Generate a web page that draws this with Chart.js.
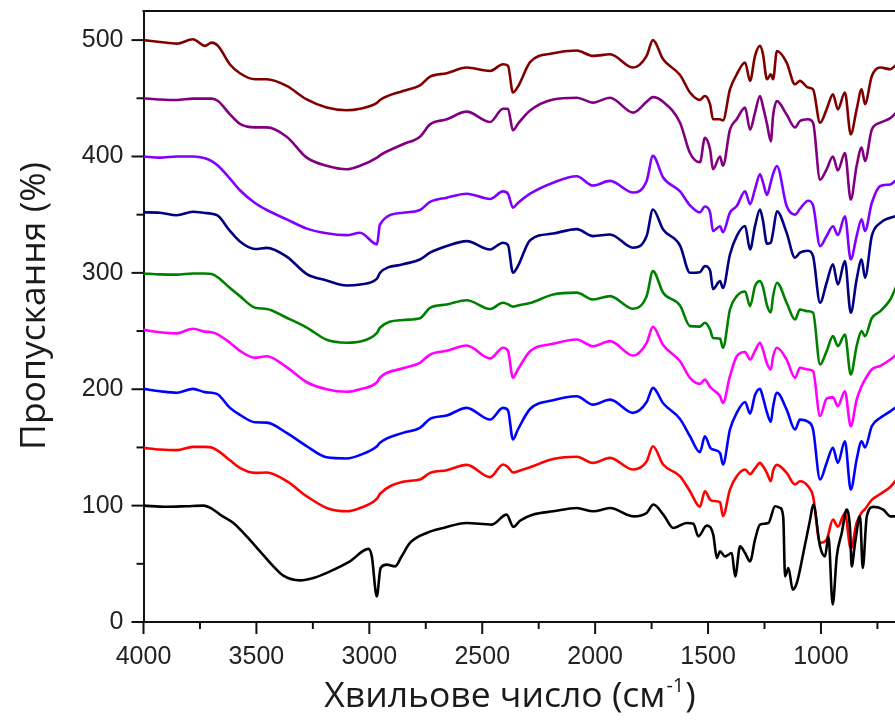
<!DOCTYPE html>
<html><head><meta charset="utf-8">
<script src="https://cdn.jsdelivr.net/npm/chart.js@4.4.1/dist/chart.umd.min.js"></script>
<style>
html,body{margin:0;padding:0;overflow:hidden;background:#fff;width:895px;height:722px}
#wrap{position:relative;width:920px;height:722px}
</style></head>
<body><div id="wrap"><canvas id="c" width="920" height="722"></canvas></div>
<script>
// ---- data (wavenumber in cm-1, transmittance in %, offset spectra) ----
const wavenumbers = [4000,3927,3853,3781,3728,3698,3670,3617,3573,3506,3454,3366,3277,3189,3100,3041,2966,2953,2851,2776,2731,2657,2569,2465,2408,2386,2364,2342,2288,2186,2082,2009,1934,1832,1772,1744,1699,1624,1580,1536,1514,1491,1478,1447,1434,1403,1373,1336,1314,1292,1270,1257,1239,1222,1212,1195,1152,1115,1093,1057,1035,1004,975,947,925,894,868,842,820,805,775,737,693,665];

const seriesDarkRed = [500,498.4,497,500.7,495,497.8,495,479,471.5,466.3,466.3,460.6,449,442,439.7,441,446,448.5,456.3,461,468.6,471.5,476.4,473.5,479.2,478,455,460,481,488.7,491,486.4,487.8,476.4,486.4,500,483.5,470,455,448.6,452,444.8,432,432,431,457.7,470.6,480.7,465,486.4,495,488,466.3,470.6,466.3,490.6,480.7,462,465,459.2,457.7,429,440.5,453.4,440.5,455,419,440.5,457.7,445,469,476.4,475,479];
const seriesPurple = [450,449,448.5,449.7,449.7,449.7,447.7,436.2,428,425,425,417,399,392,389,392,399,401,410.5,417,427.6,431.9,438.5,429.6,441,441,422.5,428,439.5,449,450.5,446.3,450.5,437.7,447,451,447,429,403,395,416,406,389,400,392,423,432,442,423,437.7,452,443,428,413,435,447.6,436,425,430.5,432,429,380,389,400,388,403,363,392,407.6,396,423,429,433,438];
const seriesViolet = [400,399,400,400,398.5,396,392,381,371,360,354,346,338,334,332.4,334.5,324.5,341.6,351.7,354,361,364.6,368,363.5,370,368,356,360,368,377.5,383,375,379,369,379,400.5,382,370,358,352,357,352,336,340,335,351.7,357.4,370,359,372,384.6,378,367,378,385,391.8,357.4,350,355,362,358,323,331.6,340,332.5,348.7,311.5,331.6,346,336,360,374.6,376,380];
const seriesNavy = [352,351.7,349.5,352.5,351.5,350.8,349,336,327,320.5,321.5,314,299,293.5,289.2,290,295,300,307.3,311.5,317.3,323,327.3,320.1,325.9,324,300.1,305.8,328,333.8,337.6,331.6,333,321.6,331.6,354.5,337.3,323.5,300.1,300.6,305.8,302,286,292.9,287,315.8,331.6,340.2,320.1,340.2,354.5,345,325,326,335,353,334.5,313,317.3,319,314.4,274.3,291.5,307.3,290,310.1,265.7,294.4,311.5,295.8,331.6,343,347.4,349];
const seriesGreen = [299.5,298.7,298.5,299.5,299.5,299,296,287,280,270,269,261.4,253,242.5,240,241,248.5,252.8,259.5,261,270,272.8,276.5,269,274.3,273,271,272,274,281.4,283,277.1,280,269.1,280,301.5,283,272,254.2,253.8,257.1,251.3,244,243.5,235.6,268.5,280,284,271.4,288.6,292.9,288,272,266,280,291.5,274.3,259.9,268.5,267,265.7,221.2,232.7,245.6,237,247,212.6,237,249.9,245.6,261,267.1,277.1,289];
const seriesMagenta = [251,249,248,252,249.5,249,247,240,233,227,228.4,219,206,200,197.8,200,206,210,218,222.7,229.8,233,237.6,226.5,235.6,233,210,217,232.7,239,242.7,237,241.3,229,239.9,253.6,238,224,209.8,204.6,208.3,202,199.7,194,188.3,211.2,228.4,232,225.5,233,239.9,234,222,217,228,235.6,225.5,209.8,218.4,217,215.5,177,192,193,185.4,198.3,168.2,191.1,202.6,208.3,217,220,225.5,230];
const seriesBlue = [200.3,198.3,197,200.3,197.5,197,195.5,184,178,171.6,171.3,162.5,151,141.5,140.5,143.5,151,154,162.5,166.8,174.5,177.4,184,174,184,182,156.8,165.4,183,190.5,194,186.8,191.1,179.7,189,201.2,188,174.5,159.6,146,159.6,150,148.2,145.3,135.3,165.4,179.7,189,179,195,200.3,193,180,172,185,197,182.5,165.4,173.9,172,165.4,122.4,136.7,149.6,136.7,155.3,113.8,139.6,155.3,150,168.2,175.4,181,185];
const seriesRed = [149.6,148.2,147.7,150.5,150.5,150,147,139,132.4,128.1,128.5,121,108,98,95.1,98,106,110,120.5,122.4,128.1,130.4,135,124.5,135.3,133,128.5,129.5,133,140,142,136.7,141,131,138,151,135.3,125.2,112.3,99,112.3,105.2,104,103,91,113.8,125.2,131,127,132,136.7,134,128,121,130,135,128.1,118.1,120.9,116.6,108,68,70.8,88,82,93.7,63,85.1,94,97,105,110,116,122.4];

const blackWavenumbers = [4000,3897,3809,3735,3698,3661,3602,3543,3484,3425,3381,3307,3248,3174,3086,3004,2989,2967,2950,2923,2886,2857,2820,2746,2672,2569,2458,2392,2362,2333,2274,2185,2082,2008,1934,1831,1772,1742,1698,1654,1594,1565,1543,1506,1477,1461,1447,1425,1395,1380,1358,1336,1314,1292,1270,1233,1203,1181,1167,1159,1144,1125,1107,1078,1048,1034,1004,982,967,948,930,908,886,871,864,849,827,815,797,768,724,693,665];
const seriesBlack = [100,99,99.5,100,97.5,92.3,85.1,73.6,60.7,47.8,39.8,35.8,37.8,43.5,52.1,62.8,56.4,22,46.4,49.3,47.8,56.4,67.9,76.5,80.8,85.1,83.7,92.3,81.7,87,92.3,95.1,98,95.1,98,90.8,93.7,100.9,92.3,80.8,85.1,84.5,73.6,82.8,75.1,55,60.7,56.4,59.3,39.2,65,59.3,52.1,70.8,83.7,85,99.4,98,90,39.2,46.4,27.8,33.5,59.3,88,100.9,65,56.4,73.6,15,56.4,76.5,96.6,79.4,47.8,67.9,90.8,46.4,90.8,98.9,96.6,90.8,90.8];

const xTickValues = [750,1000,1250,1500,1750,2000,2250,2500,2750,3000,3250,3500,3750,4000];
const yTickValues = [0,50,100,150,200,250,300,350,400,450,500];
const xTitle = ['Хвильове число (см', '-1', ')'];
const yTitle = 'Пропускання (%)';

// ---- build datasets ----
function pts(xs, ys){ return xs.map((x,i)=>({x:x, y:ys[i]})); }
const seriesDefs = [
  [blackWavenumbers, seriesBlack, '#000000'],
  [wavenumbers, seriesRed, '#ff0000'],
  [wavenumbers, seriesBlue, '#0000ff'],
  [wavenumbers, seriesMagenta, '#ff00ff'],
  [wavenumbers, seriesGreen, '#008000'],
  [wavenumbers, seriesNavy, '#000080'],
  [wavenumbers, seriesViolet, '#8000ff'],
  [wavenumbers, seriesPurple, '#800080'],
  [wavenumbers, seriesDarkRed, '#800000']
];
const datasets = seriesDefs.map(([xs, ys, col]) => ({
  data: pts(xs, ys), borderColor: col, borderWidth: 2.6, pointRadius: 0,
  cubicInterpolationMode: 'monotone', fill: false,
  borderJoinStyle: 'round', borderCapStyle: 'round'
}));

function zeroPad(s){ s.paddingLeft = 0; s.paddingRight = 0; s.paddingTop = 0; s.paddingBottom = 0; }

const framePlugin = {
  id: 'frame',
  afterDraw(chart){
    const ctx = chart.ctx, a = chart.chartArea;
    const xs = chart.scales.x, ys = chart.scales.y;
    ctx.save();
    ctx.strokeStyle = '#111';
    ctx.lineWidth = 2;
    ctx.beginPath(); ctx.moveTo(a.left - 1, a.top); ctx.lineTo(a.right + 30, a.top); ctx.stroke();
    yTickValues.forEach(v => {
      const p = ys.getPixelForValue(v);
      const len = (v % 100 === 0) ? 12 : 7;
      ctx.beginPath(); ctx.moveTo(a.left, p); ctx.lineTo(a.left - len, p); ctx.stroke();
    });
    xTickValues.forEach(v => {
      const p = xs.getPixelForValue(v);
      const len = (v % 500 === 0) ? 12 : 7;
      ctx.beginPath(); ctx.moveTo(p, a.bottom); ctx.lineTo(p, a.bottom + len); ctx.stroke();
    });
    ctx.fillStyle = '#1a1a1a';
    const mainFont = '35.5px "Open Sans"', supFont = '20px "Open Sans"';
    ctx.font = mainFont;
    const w1 = ctx.measureText(xTitle[0]).width, w3 = ctx.measureText(xTitle[2]).width;
    ctx.font = supFont;
    const w2 = ctx.measureText(xTitle[1]).width;
    const total = w1 + w2 + w3 + 2;
    const x0 = 510 - total / 2;
    const base = 707;
    ctx.textAlign = 'left'; ctx.textBaseline = 'alphabetic';
    ctx.font = mainFont; ctx.fillText(xTitle[0], x0, base);
    ctx.font = supFont; ctx.fillText(xTitle[1], x0 + w1 + 1, base - 15);
    ctx.font = mainFont; ctx.fillText(xTitle[2], x0 + w1 + w2 + 2, base);
    ctx.translate(35, 306);
    ctx.rotate(-Math.PI / 2);
    ctx.textAlign = 'center'; ctx.textBaseline = 'middle';
    ctx.font = mainFont;
    ctx.fillText(yTitle, 0, 0);
    ctx.restore();
  }
};

new Chart(document.getElementById('c').getContext('2d'), {
  type: 'line',
  data: { datasets },
  options: {
    responsive: false, animation: false, devicePixelRatio: 1,
    layout: { padding: { top: 11, right: 20, left: 0, bottom: 0 } },
    plugins: { legend: { display: false }, tooltip: { enabled: false } },
    scales: {
      x: {
        type: 'linear', reverse: true, min: 650, max: 4000,
        afterBuildTicks: s => { s.ticks = xTickValues.map(v => ({ value: v })); },
        afterFit: s => { s.height = 100; zeroPad(s); },
        grid: { display: false, drawTicks: false },
        border: { display: true, color: '#111', width: 2 },
        ticks: { padding: 20, color: '#222', autoSkip: false, maxRotation: 0,
          font: { family: 'Liberation Sans', size: 25 },
          callback: v => (v % 500 === 0 ? String(v) : '') }
      },
      y: {
        type: 'linear', min: 0, max: 525,
        afterBuildTicks: s => { s.ticks = yTickValues.map(v => ({ value: v })); },
        afterFit: s => { s.width = 143.5; zeroPad(s); },
        grid: { display: false, drawTicks: false },
        border: { display: true, color: '#111', width: 2 },
        ticks: { padding: 20, color: '#222', autoSkip: false,
          font: { family: 'Liberation Sans', size: 25 },
          callback: v => (v % 100 === 0 ? String(v) : '') }
      }
    }
  },
  plugins: [framePlugin]
});
</script></body></html>
